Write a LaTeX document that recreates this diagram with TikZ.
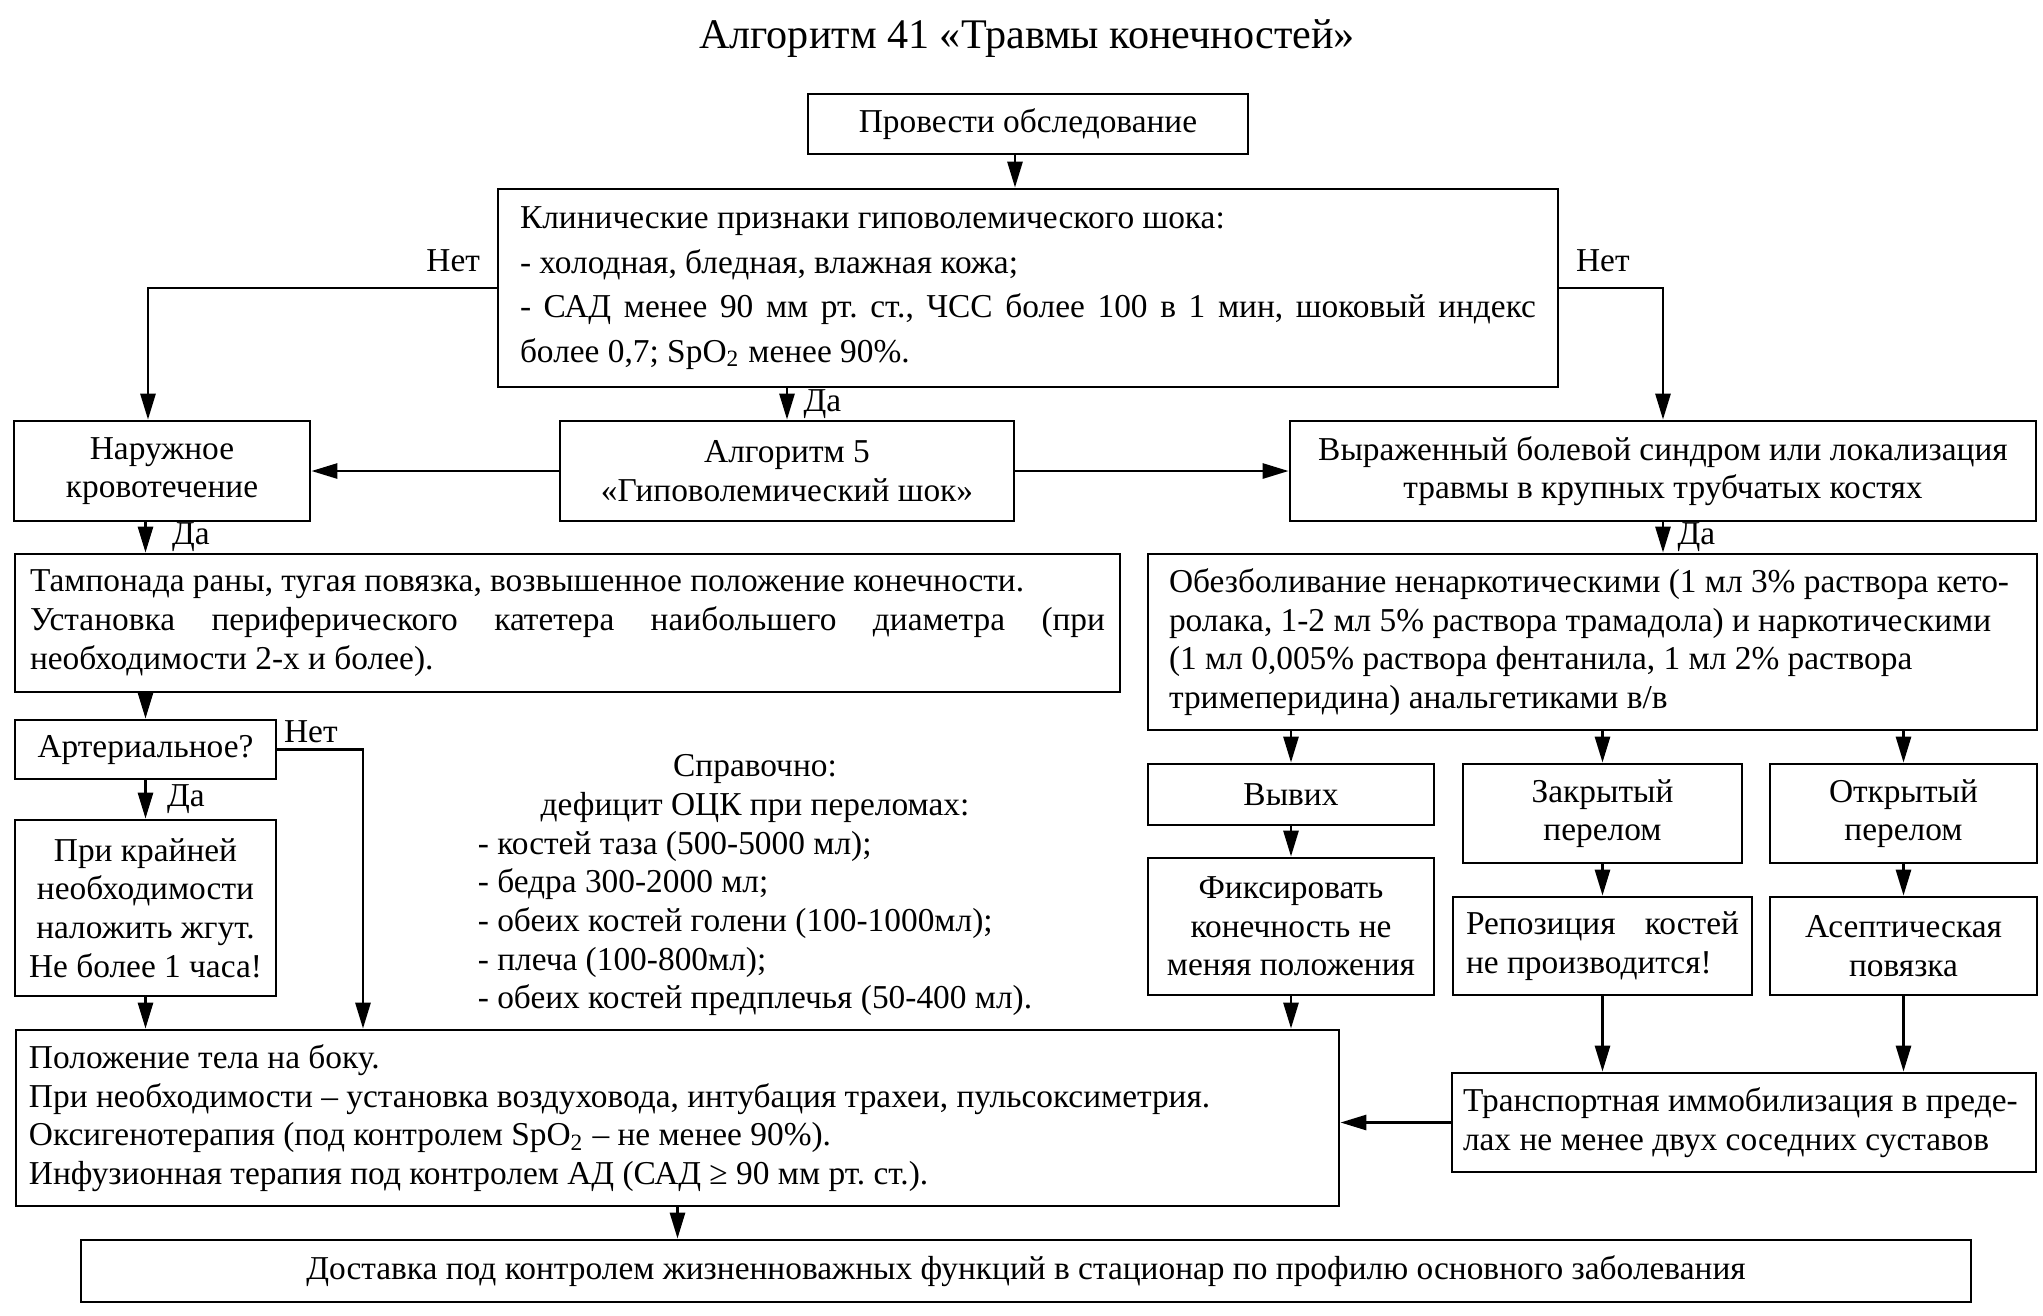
\documentclass[tikz,border=0pt]{standalone}
\usepackage{fontspec}
\setmainfont{Liberation Serif}
\usepackage{tikz}
\usetikzlibrary{arrows.meta,positioning}

\newcommand{\algfont}{\fontsize{9.5}{11}\selectfont\frenchspacing}
\newcommand{\fullline}[2]{\makebox[#1][s]{#2}}

\tikzset{
  blk/.style={ draw, line width=0.8pt, align=flush center, inner sep=1pt, font=\algfont }
}
\tikzset{
  lblk/.style={ blk, align=flush left }
}
\tikzset{
  arr/.style={ -{Triangle[length=2.6mm, width=1.5mm]}, line width=0.8pt }
}
\tikzset{
  yn/.style={ font=\algfont, inner sep=1.5pt }
}

\begin{document}
\begin{tikzpicture}
  \useasboundingbox (0,0) rectangle (20.43,-13.15);
  \node[font=\fontsize{12}{14}\selectfont] (title) at (10.27,-0.39) {Алгоритм 41 «Травмы конечностей»};

  \node[blk, minimum width=4.40cm, minimum height=0.60cm] (obsl) at (10.28,-1.24) {Провести обследование};
  \node[lblk, text width=10.16cm, inner xsep=0.22cm, minimum height=1.98cm, font=\fontsize{9.5}{12.7}\selectfont\frenchspacing] (klin) at (10.28,-2.88)
    {Клинические признаки гиповолемического шока:\\
     - холодная, бледная, влажная кожа;\\
     \fullline{10.16cm}{- САД менее 90 мм рт. ст., ЧСС более 100 в 1 мин, шоковый индекс}\\
     более 0,7; SpO\textsubscript{2} менее 90\%.};

  \node[blk, minimum width=2.96cm, minimum height=1.00cm] (naruzh) at (1.62,-4.71) {Наружное\\кровотечение};
  \node[blk, minimum width=4.54cm, minimum height=1.00cm] (alg5) at (7.87,-4.71) {Алгоритм 5\\«Гиповолемический шок»};
  \node[blk, minimum width=7.46cm, minimum height=1.00cm] (vyrazh) at (16.63,-4.71) {Выраженный болевой синдром или локализация\\травмы в крупных трубчатых костях};

  \node[lblk, text width=10.75cm, inner xsep=0.15cm, minimum height=1.38cm] (tamp) at (5.675,-6.23)
    {Тампонада раны, тугая повязка, возвышенное положение конечности.\\
     \fullline{10.75cm}{Установка периферического катетера наибольшего диаметра (при}\\
     необходимости 2-х и более).};
  \node[blk, minimum width=2.61cm, minimum height=0.59cm] (arter) at (1.455,-7.495) {Артериальное?};
  \node[blk, minimum width=2.61cm, minimum height=1.76cm] (krain) at (1.455,-9.08) {При крайней\\необходимости\\наложить жгут.\\Не более 1 часа!};

  \node[font=\algfont] (sprav) at (7.55,-8.85) {\begin{tabular}{@{}l@{}}
    \multicolumn{1}{c}{Справочно:}\\
    \multicolumn{1}{c}{дефицит ОЦК при переломах:}\\
    - костей таза (500-5000 мл);\\
    - бедра 300-2000 мл;\\
    - обеих костей голени (100-1000мл);\\
    - плеча (100-800мл);\\
    - обеих костей предплечья (50-400 мл).
  \end{tabular}};

  \node[lblk, text width=8.47cm, inner xsep=0.21cm, minimum height=1.76cm] (obezb) at (15.925,-6.42)
    {\fullline{8.40cm}{Обезболивание ненаркотическими (1 мл 3\% раствора кето-}\\
     ролака, 1-2 мл 5\% раствора трамадола) и наркотическими\\
     (1 мл 0,005\% раствора фентанила, 1 мл 2\% раствора\\
     тримеперидина) анальгетиками в/в};

  \node[blk, minimum width=2.86cm, minimum height=0.61cm] (vyvih) at (12.91,-7.945) {Вывих};
  \node[blk, minimum width=2.79cm, minimum height=0.99cm] (zakr) at (16.025,-8.135) {Закрытый\\перелом};
  \node[blk, minimum width=2.67cm, minimum height=0.99cm] (otkr) at (19.035,-8.135) {Открытый\\перелом};
  \node[blk, minimum width=2.86cm, minimum height=1.37cm] (fiks) at (12.91,-9.265) {Фиксировать\\конечность не\\меняя положения};
  \node[lblk, text width=2.73cm, inner xsep=0.13cm, minimum height=0.98cm] (repoz) at (16.025,-9.46)
    {\fullline{2.73cm}{Репозиция костей}\\не производится!};
  \node[blk, minimum width=2.67cm, minimum height=0.98cm] (asept) at (19.035,-9.46) {Асептическая\\повязка};

  \node[lblk, text width=5.62cm, inner xsep=0.11cm, minimum height=0.99cm] (transp) at (17.44,-11.225)
    {Транспортная иммобилизация в преде-\\лах не менее двух соседних суставов};
  \node[lblk, text width=12.97cm, inner xsep=0.13cm, minimum height=1.76cm] (polozh) at (6.775,-11.18)
    {Положение тела на боку.\\
     При необходимости – установка воздуховода, интубация трахеи, пульсоксиметрия.\\
     Оксигенотерапия (под контролем SpO\textsubscript{2} – не менее 90\%).\\
     Инфузионная терапия под контролем АД (САД ≥ 90 мм рт. ст.).};
  \node[blk, minimum width=18.90cm, minimum height=0.62cm] (dost) at (10.26,-12.71) {Доставка под контролем жизненноважных функций в стационар по профилю основного заболевания};

  % connectors
  \draw[arr] ([xshift=-1.3mm]obsl.south) -- ([xshift=-1.3mm]klin.north);
  \draw[arr] (klin.west) node[yn, above left, xshift=-1mm, yshift=1mm] {Нет} -| ([xshift=-1.4mm]naruzh.north);
  \draw[arr] (klin.east) node[yn, above right, xshift=1mm, yshift=1mm] {Нет} -| (vyrazh.north);
  \draw[arr] (klin.south -| alg5.north) -- node[yn, right, xshift=1mm] {Да} (alg5.north);
  \draw[arr] (alg5.west) -- (naruzh.east);
  \draw[arr] (alg5.east) -- (vyrazh.west);
  \draw[arr] (naruzh.south -| arter.north) -- node[yn, right, xshift=2mm] {Да} (tamp.north -| arter.north);
  \draw[arr] (tamp.south -| arter.north) -- (arter.north);
  \draw[arr] (arter.east) node[yn, above right] {Нет} -| ([xshift=-3.145cm]polozh.north);
  \draw[arr] (arter.south) -- node[yn, right, xshift=1.5mm] {Да} (krain.north);
  \draw[arr] (krain.south) -- (krain.south |- polozh.north);
  \draw[arr] (vyrazh.south) -- node[yn, right, xshift=0.8mm] {Да} (vyrazh.south |- obezb.north);
  \draw[arr] (obezb.south -| vyvih.north) -- (vyvih.north);
  \draw[arr] (obezb.south -| zakr.north) -- (zakr.north);
  \draw[arr] (obezb.south -| otkr.north) -- (otkr.north);
  \draw[arr] (vyvih.south) -- (fiks.north);
  \draw[arr] (zakr.south) -- (repoz.north);
  \draw[arr] (otkr.south) -- (asept.north);
  \draw[arr] (fiks.south) -- (fiks.south |- polozh.north);
  \draw[arr] (repoz.south) -- (repoz.south |- transp.north);
  \draw[arr] (asept.south) -- (asept.south |- transp.north);
  \draw[arr] (transp.west) -- (transp.west -| polozh.east);
  \draw[arr] (polozh.south) -- (polozh.south |- dost.north);
\end{tikzpicture}
\end{document}
